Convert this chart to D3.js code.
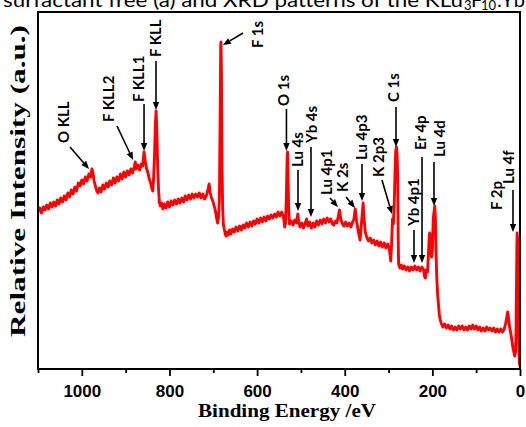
<!DOCTYPE html>
<html>
<head>
<meta charset="utf-8">
<script src="https://cdn.jsdelivr.net/npm/d3@7"></script>
<style>
  body { margin: 0; background: #fff; }
  svg { display: block; }
</style>
</head>
<body>
<svg id="xps" width="526" height="427"></svg>
<script>
// survey spectrum, [binding energy eV, relative intensity a.u.]
const spectrum = [
  [1100,157],[1096,161],[1092,156],[1088,162],[1084,159],[1080,164],[1076,160],[1072,166],[1068,162],[1064,167],
  [1060,163],[1056,169],[1052,165],[1048,171],[1044,167],[1040,173],[1036,169],[1032,176],[1028,172],[1024,179],
  [1020,175],[1016,182],[1012,178],[1008,186],[1004,183],[1000,189],[996,185],[992,192],[988,188],[984,195],
  [980,192],[977,200],[975,197],[972,188],[969,183],[966,178],[963,176],[960,181],[956,177],[952,184],
  [948,180],[944,186],[940,182],[936,188],[932,184],[928,191],[924,186],[920,192],[916,188],[912,195],
  [908,190],[904,197],[900,192],[896,198],[892,194],[888,200],[884,196],[880,203],[878,207],[876,200],
  [872,204],[868,199],[864,205],[861,203],[858,217],[855,207],[852,200],[849,196],[846,190],[843,186],
  [840,180],[838,178],[836,192],[834,215],[832,245],[830.5,258],[829,240],[827,205],[825,180],[823,167],
  [821,163],[818,166],[815,160],[812,165],[808,161],[804,167],[800,162],[796,168],[792,164],[788,169],
  [784,165],[780,170],[776,166],[772,171],[768,167],[764,173],[760,169],[756,174],[752,170],[748,175],
  [744,171],[740,175],[736,172],[732,176],[728,171],[724,175],[720,170],[716,173],[712,180],[709.5,185],
  [707,176],[704,171],[701,168],[698,163],[695,158],[692,150],[690,146],[688,152],[686,170],[684.5,240],
  [683,322],[682.5,327],[681.5,300],[680,200],[678.5,160],[677,145],[675,140],[673,136],[671,133],[669,137],
  [666,134],[663,139],[660,135],[656,140],[652,137],[648,142],[644,138],[640,143],[636,139],[632,144],
  [628,141],[624,146],[620,142],[616,147],[612,143],[608,148],[604,145],[600,150],[596,146],[592,151],
  [588,147],[584,152],[580,148],[576,153],[572,150],[568,154],[564,151],[560,155],[556,152],[552,157],
  [548,153],[544,157],[541,154],[539,150],[537,142],[535,146],[533,175],[531.5,210],[530.5,217],[529.5,195],
  [528,160],[526,145],[522,148],[518,144],[514,149],[510,146],[507,155],[505,147],[502,142],[498,146],
  [494,141],[490,146],[487,150],[484,143],[480,147],[476,141],[472,146],[468,142],[464,148],[460,144],
  [456,149],[452,145],[448,150],[444,146],[440,151],[436,147],[432,150],[428,145],[425,144],[421,148],
  [418,146],[415,152],[412,159],[409,150],[406,146],[402,143],[398,147],[394,143],[390,146],[386,142],
  [382,147],[379,150],[376,160],[373,148],[370,140],[367,133],[365,129],[363,140],[360,155],[358,166],
  [356,150],[353,137],[350,132],[346,128],[342,131],[338,126],[334,129],[330,124],[326,128],[322,123],
  [318,127],[314,122],[310,126],[306,121],[302,125],[298,120],[296,112],[295,108],[293,125],[291,150],
  [289,145],[287,165],[285,200],[283.5,218],[282,222],[280.5,215],[279,190],[278,130],[277,105],[274,101],
  [271,104],[268,100],[264,103],[260,99],[256,102],[252,98],[248,102],[244,99],[240,103],[236,99],
  [232,102],[228,98],[224,102],[220,99],[218,93],[216,91],[214,99],[211,97],[209,115],[207,133],
  [206,136],[204,125],[202,112],[200,118],[198,150],[196,158],[194.5,163],[193,150],[191.5,115],[190,92],
  [188,75],[186,64],[184,54],[182,49],[179,45],[176,42],[172,45],[168,41],[164,44],[160,40],
  [156,43],[152,39],[148,42],[144,39],[140,43],[136,40],[132,43],[128,39],[124,42],[120,39],
  [116,43],[112,40],[108,44],[104,40],[100,43],[96,39],[92,42],[88,38],[84,41],[80,38],
  [76,42],[72,39],[68,41],[64,38],[60,41],[56,37],[52,40],[48,37],[44,40],[40,37],
  [36,40],[33,45],[30,52],[28,57],[26,50],[24,43],[22,38],[20,33],[18,27],[16,21],
  [14,17],[12,13],[10,18],[9,40],[8,85],[7,125],[6.5,136],[5.5,130],[4.5,95],[3.5,50],
  [2.5,20],[1.5,8],[0.5,3]
];

const majorTicks = [1000, 800, 600, 400, 200, 0];
const minorTicks = [1100, 900, 700, 500, 300, 100];

// peak assignments: label foot, arrow tail, arrow tip (eV, a.u.)
const peakNames = ["O KLL", "F KLL2", "F KLL1", "F KLL", "F 1s", "O 1s", "Lu 4s", "Yb 4s", "Lu 4p1",
  "K 2s", "Lu 4p3", "K 2p3", "C 1s", "Yb 4p1", "Er 4p", "Lu 4d", "F 2p", "Lu 4f"];
const labelAt = [[1040.7,226],[940,247],[869.5,267],[830.7,312],[598,321],[538.6,263],[506.6,202],[474.7,226],[440.5,174],
  [404,177],[360.6,209],[321.8,192],[287.5,267],[241.9,143],[226,219],[182.6,212],[52.5,159],[25,185]];
const arrowTail = [[1027,222],[919.7,243],[858,265],[830.7,308],[632,336],[533,260],[506.6,199],[477,222],[433.6,171],
  [397,172],[360.6,205],[315,189],[283,262],[241.9,139],[223.6,212],[196.3,207],null,[16,179]];
const arrowTip = [[983.6,200],[883,209],[858,218],[830.7,259],[678,324],[533,218],[506.6,158],[477,152],[415.4,162],
  [376.5,161],[360.6,168],[292.2,155],[283,222],[241.9,106],[223.6,106],[196.3,163],null,[16,137]];

const svg = d3.select("#xps"),
    margin = { top: 12, right: 6, bottom: 58, left: 38 },
    width = +svg.attr("width") - margin.left - margin.right,
    height = +svg.attr("height") - margin.top - margin.bottom;

// caption line of the page, cut off at the top as in the source
const cap = svg.append("g").attr("font-family", "Lato, 'Open Sans', sans-serif").attr("font-size", 20).attr("fill", "#000");
cap.append("text").attr("x", 3).attr("y", 6.5).attr("textLength", 460).attr("lengthAdjust", "spacingAndGlyphs")
    .text("surfactant free (a) and XRD patterns of the KLu");
cap.append("text").attr("x", 464).attr("y", 10).attr("font-size", 13).text("3");
cap.append("text").attr("x", 471).attr("y", 6.5).text("F");
cap.append("text").attr("x", 481).attr("y", 10).attr("font-size", 13).text("10");
cap.append("text").attr("x", 497).attr("y", 6.5).text(":Yb");

const x = d3.scaleLinear().domain([1100, 0]).range([0, width]);
const y = d3.scaleLinear().domain([0, 357]).range([height, 0]);

const g = svg.append("g").attr("transform", `translate(${margin.left},${margin.top})`);

g.append("clipPath").attr("id", "plot").append("rect").attr("width", width).attr("height", height);

const line = d3.line()
    .x(d => x(d[0]))
    .y(d => y(d[1]));

g.append("path")
    .datum(spectrum)
    .attr("clip-path", "url(#plot)")
    .attr("d", line)
    .attr("fill", "none")
    .attr("stroke", "#ff0000")
    .attr("stroke-width", 2.9)
    .attr("stroke-linejoin", "round");

// x axis, major + minor ticks
const ax = g.append("g")
    .attr("transform", `translate(0,${height})`)
    .call(d3.axisBottom(x).tickValues(majorTicks).tickSize(7).tickPadding(9).tickFormat(d3.format("d")));
g.append("g")
    .attr("transform", `translate(0,${height})`)
    .call(d3.axisBottom(x).tickValues(minorTicks).tickSize(4).tickFormat(""));
g.selectAll(".domain").remove();
g.selectAll(".tick line").attr("stroke", "#000").attr("stroke-width", 1.8);
ax.selectAll(".tick text")
    .attr("fill", "#000")
    .attr("font-family", "'Liberation Sans', Arial, sans-serif")
    .attr("font-weight", "bold")
    .attr("font-size", 17);

g.append("rect")
    .attr("width", width).attr("height", height)
    .attr("fill", "none").attr("stroke", "#000").attr("stroke-width", 2);

g.append("text")
    .attr("x", width / 2 + 8).attr("y", height + 48)
    .attr("text-anchor", "middle")
    .attr("font-family", "'Liberation Serif', 'Times New Roman', serif")
    .attr("font-weight", "bold").attr("font-size", 19)
    .attr("textLength", 178).attr("lengthAdjust", "spacingAndGlyphs")
    .text("Binding Energy /eV");

g.append("text")
    .attr("transform", `translate(-13,169) rotate(-90)`)
    .attr("text-anchor", "middle")
    .attr("font-family", "'Liberation Serif', 'Times New Roman', serif")
    .attr("font-weight", "bold").attr("font-size", 20)
    .attr("textLength", 312).attr("lengthAdjust", "spacingAndGlyphs")
    .text("Relative Intensity (a.u.)");

// peak labels and arrows
const notes = g.append("g");
peakNames.forEach((name, i) => {
  const [le, li] = labelAt[i];
  notes.append("text")
      .attr("transform", `translate(${x(le)},${y(li)}) rotate(-90)`)
      .attr("dy", "0.36em")
      .attr("font-family", "Lato, 'Open Sans', sans-serif")
      .attr("font-weight", "bold").attr("font-size", 15)
      .attr("fill", "#000")
      .text(name);
  if (!arrowTip[i]) return;
  const x1 = x(arrowTail[i][0]), y1 = y(arrowTail[i][1]);
  const x2 = x(arrowTip[i][0]), y2 = y(arrowTip[i][1]);
  const a = Math.atan2(y2 - y1, x2 - x1), L = 8, W = 3.2;
  const bx = x2 - L * Math.cos(a), by = y2 - L * Math.sin(a);
  notes.append("line")
      .attr("x1", x1).attr("y1", y1).attr("x2", bx).attr("y2", by)
      .attr("stroke", "#000").attr("stroke-width", 1.6);
  notes.append("path")
      .attr("d", `M${x2},${y2}L${bx - W * Math.sin(a)},${by + W * Math.cos(a)}L${bx + W * Math.sin(a)},${by - W * Math.cos(a)}Z`)
      .attr("fill", "#000");
});
</script>
</body>
</html>
